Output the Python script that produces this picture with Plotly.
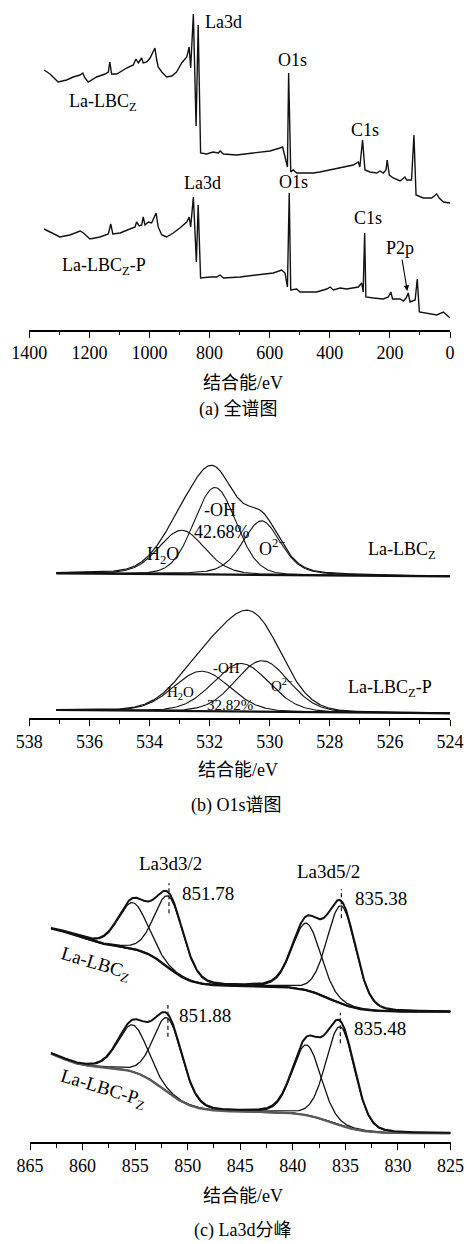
import numpy as np
import plotly.graph_objects as go

W, H = 467, 1244
SERIF = "Liberation Serif"
CJK = "Liberation Serif, Noto Sans CJK SC"

# ---------------- (a) survey spectra: binding energy (eV) / intensity (a.u.) ----------------
survey_top_ev = [1351, 1331, 1304, 1276, 1254, 1231, 1222, 1215, 1204, 1176, 1148, 1137, 1132, 1126,
                 1109, 1076, 1054, 1045, 1037, 1032, 1026, 1021, 1009, 998, 989, 982, 976, 971, 959,
                 943, 926, 910, 893, 876, 868, 863, 854, 845, 838, 830, 810, 788, 771, 765, 754, 710,
                 655, 599, 566, 557, 549, 541, 537, 530, 522, 510, 488, 455, 433, 399, 366, 322, 305,
                 300, 291, 283, 266, 244, 233, 222, 213, 209, 202, 189, 166, 150, 144, 128, 120, 113,
                 89, 61, 44, 36, 22, 0]
survey_top_int = [260, 256, 248, 250, 253, 255, 257, 252, 248, 253, 256, 258, 268, 256,
                  256, 262, 265, 271, 267, 270, 272, 267, 268, 272, 277, 282, 270, 263, 258,
                  253, 254, 258, 267, 273, 283, 262, 316, 204, 305, 177, 176, 178, 177, 179, 176, 175,
                  177, 179, 182, 183, 173, 163, 257, 158, 160, 157, 157, 157, 158, 160, 162, 165, 168,
                  163, 190, 160, 158, 157, 159, 157, 160, 170, 155, 152, 149, 153, 150, 150, 195, 135,
                  132, 132, 136, 132, 128, 127]

survey_bot_ev = [1351, 1331, 1298, 1265, 1231, 1220, 1198, 1165, 1137, 1129, 1122, 1098, 1065, 1048,
                 1043, 1034, 1026, 1021, 1015, 1004, 993, 978, 971, 959, 943, 921, 899, 876, 868, 863,
                 854, 844, 838, 830, 799, 776, 765, 754, 699, 643, 588, 560, 549, 541, 535, 530, 510,
                 499, 444, 410, 399, 388, 366, 344, 305, 294, 289, 284, 280, 255, 222, 205, 197, 191,
                 166, 155, 146, 139, 133, 116, 109, 102, 78, 44, 22, 11, 0]
survey_bot_int = [101, 98, 93, 95, 99, 97, 91, 93, 96, 106, 96, 97, 101, 103,
                  108, 104, 105, 113, 105, 108, 107, 117, 103, 95, 93, 97, 102, 108, 113, 103,
                  133, 68, 125, 52, 53, 53, 55, 52, 53, 55, 57, 60, 57, 43, 137, 40, 41,
                  38, 38, 41, 43, 40, 42, 41, 43, 47, 38, 97, 33, 32, 31, 33, 38, 31,
                  31, 29, 32, 37, 28, 30, 51, 18, 17, 15, 18, 15, 12]

# ---------------- (b) O1s fit: H2O, -OH, O2- components ----------------
o1s_top_center = [532.93, 531.82, 530.27]
o1s_top_height = [44, 87, 54]
o1s_top_fwhm = [1.8, 1.65, 1.5]
o1s_top_lfrac = [0.2, 0.1, 0.35]
o1s_top_bg = [145.0, 142.0]          # background at 537.1 eV and 524 eV

o1s_bot_center = [532.26, 530.95, 530.25]
o1s_bot_height = [40, 48, 51]
o1s_bot_fwhm = [2.2, 2.2, 2.1]
o1s_bot_lfrac = [0.1, 0.1, 0.1]
o1s_bot_bg = [8.3, 5.0]
o1s_span = [537.1, 524.0]

# ---------------- (c) La3d fit: satellite + main peak for 3d3/2 and 3d5/2 ----------------
la_top_center = [855.2, 851.78, 838.7, 835.38]
la_top_height = [46.2, 71.6, 67.0, 97.9]
la_bot_center = [855.2, 851.88, 838.7, 835.48]
la_bot_height = [46.8, 74.3, 70.2, 98.8]
la_fwhm = [3.3, 3.2, 3.2, 3.2]
la_lfrac = 0.15
# step-type background: base level, step centres / heights / widths
la_top_bg_base = 130.6
la_top_bg_steps = [(836.5, 25.7, 1.36), (852.0, 39.0, 1.2), (860.5, 22.0, 1.5)]
la_bot_bg_base = 9.0
la_bot_bg_steps = [(836.3, 21.5, 1.43), (852.3, 45.0, 1.4), (862.0, 18.0, 1.0)]
la_span = [863.0, 825.0]


def pseudo_voigt(e, c, h, fwhm, eta):
    u = (e - c) / fwhm
    return h * ((1 - eta) * np.exp(-4 * np.log(2) * u ** 2) + eta / (1 + 4 * u ** 2))


def step_bg(e, base, steps):
    out = np.full_like(e, base, dtype=float)
    for c, hgt, w in steps:
        out += hgt / (1 + np.exp(-(e - c) / w))
    return out


fig = go.Figure()
BLACK = "#111111"

# (a)
fig.add_trace(go.Scatter(x=survey_top_ev, y=survey_top_int, mode="lines",
                         line=dict(color=BLACK, width=1.4), xaxis="x", yaxis="y"))
fig.add_trace(go.Scatter(x=survey_bot_ev, y=survey_bot_int, mode="lines",
                         line=dict(color=BLACK, width=1.4), xaxis="x", yaxis="y"))

# (b)
e_o = np.linspace(o1s_span[0], o1s_span[1], 500)
for centers, heights, fwhms, lfr, bgv in [
        (o1s_top_center, o1s_top_height, o1s_top_fwhm, o1s_top_lfrac, o1s_top_bg),
        (o1s_bot_center, o1s_bot_height, o1s_bot_fwhm, o1s_bot_lfrac, o1s_bot_bg)]:
    bg = bgv[0] + (bgv[1] - bgv[0]) * (e_o - o1s_span[0]) / (o1s_span[1] - o1s_span[0])
    comps = [pseudo_voigt(e_o, c, h, w, l) for c, h, w, l in zip(centers, heights, fwhms, lfr)]
    for comp in comps:
        fig.add_trace(go.Scatter(x=e_o, y=comp + bg, mode="lines",
                                 line=dict(color=BLACK, width=1.1), xaxis="x2", yaxis="y2"))
    fig.add_trace(go.Scatter(x=e_o, y=bg, mode="lines",
                             line=dict(color=BLACK, width=2.2), xaxis="x2", yaxis="y2"))
    fig.add_trace(go.Scatter(x=e_o, y=sum(comps) + bg, mode="lines",
                             line=dict(color=BLACK, width=1.2), xaxis="x2", yaxis="y2"))

# (c)
e_l = np.linspace(la_span[0], la_span[1], 600)
for centers, heights, base, steps, bgcol in [
        (la_top_center, la_top_height, la_top_bg_base, la_top_bg_steps, BLACK),
        (la_bot_center, la_bot_height, la_bot_bg_base, la_bot_bg_steps, "#5a5a5a")]:
    bg = step_bg(e_l, base, steps)
    comps = [pseudo_voigt(e_l, c, h, w, la_lfrac) for c, h, w in zip(centers, heights, la_fwhm)]
    for comp in comps:
        fig.add_trace(go.Scatter(x=e_l, y=comp + bg, mode="lines",
                                 line=dict(color=BLACK, width=1.3), xaxis="x3", yaxis="y3"))
    fig.add_trace(go.Scatter(x=e_l, y=bg, mode="lines",
                             line=dict(color=bgcol, width=2.3), xaxis="x3", yaxis="y3"))
    fig.add_trace(go.Scatter(x=e_l, y=sum(comps) + bg, mode="lines",
                             line=dict(color=BLACK, width=2.0), xaxis="x3", yaxis="y3"))

# peak-position markers in (c)
marker_ranges = [(la_top_center[1], 229, 259), (la_top_center[3], 224, 253),
                 (la_bot_center[1], 105.6, 137.3), (la_bot_center[3], 99, 129.6)]
for xv, y0, y1 in marker_ranges:
    fig.add_shape(type="line", x0=xv, x1=xv, y0=y0, y1=y1, xref="x3", yref="y3",
                  line=dict(color=BLACK, width=1.2, dash="4px,3px"))


def xaxis_cfg(domain, rng, dtick, minor):
    return dict(domain=domain, range=rng, tickmode="linear", tick0=0, dtick=dtick,
                ticks="outside", ticklen=6, tickwidth=1.3, tickcolor="black",
                showline=True, linewidth=1.5, linecolor="black", showgrid=False, zeroline=False,
                automargin=False,
                minor=dict(dtick=minor, tick0=0, ticks="outside", ticklen=3.5, tickwidth=1.2,
                           tickcolor="black", showgrid=False),
                tickfont=dict(family=SERIF, size=18, color="black"), fixedrange=True)


def yaxis_cfg(axis_px, top_px, anchor):
    return dict(domain=[1 - axis_px / H, 1 - top_px / H], range=[0, axis_px - top_px],
                visible=False, anchor=anchor, fixedrange=True, automargin=False)


dx = [29.3 / W, 450.0 / W]
fig.update_layout(
    width=W, height=H, margin=dict(l=0, r=0, t=0, b=0, pad=0, autoexpand=False),
    paper_bgcolor="white", plot_bgcolor="rgba(0,0,0,0)", showlegend=False,
    xaxis=dict(**xaxis_cfg(dx, [1400, 0], 200, 100), anchor="y"),
    yaxis=yaxis_cfg(330, 4, "x"),
    xaxis2=dict(**xaxis_cfg(dx, [538, 524], 2, 1), anchor="y2"),
    yaxis2=yaxis_cfg(718.3, 440, "x2"),
    xaxis3=dict(**xaxis_cfg([30.0 / W, 450.5 / W], [865, 825], 5, 2.5), anchor="y3"),
    yaxis3=yaxis_cfg(1142.3, 850, "x3"),
)

ann = []


def label(text, x, y, ax="x", size=18, xanchor="center", angle=0):
    ann.append(dict(text=text, x=x, y=y, xref=ax, yref=ax.replace("x", "y"), showarrow=False,
                    xanchor=xanchor, yanchor="middle", textangle=angle,
                    font=dict(family=SERIF, size=size, color="black")))


# (a) labels
label("La3d", 755, 308)
label("O1s", 524, 270)
label("C1s", 283, 200)
label("La-LBC<sub>Z</sub>", 1275, 227, xanchor="left")
label("La3d", 822, 147)
label("O1s", 521, 148)
label("C1s", 273, 112)
label("La-LBC<sub>Z</sub>-P", 1298, 63, xanchor="left")
ann.append(dict(text="P2p", x=142, y=39, ax=166, ay=82, xref="x", yref="y", axref="x", ayref="y",
                showarrow=True, arrowhead=2, arrowsize=1, arrowwidth=1.1, arrowcolor="black",
                font=dict(family=SERIF, size=18, color="black")))

# (b) labels
label("-OH", 531.65, 208.3, "x2")
label("42.68%", 531.6, 186.6, "x2")
label("H<sub>2</sub>O", 533.54, 163.3, "x2")
label("O<sup>2−</sup>", 529.93, 171, "x2")
label("La-LBC<sub>Z</sub>", 525.61, 168.3, "x2")
label("-OH", 531.43, 50, "x2", size=15)
label("32.82%", 531.32, 13.3, "x2", size=15)
label("H<sub>2</sub>O", 532.98, 25, "x2", size=15)
label("O<sup>2−</sup>", 529.6, 33.3, "x2", size=15)
label("La-LBC<sub>Z</sub>-P", 526.0, 30, "x2")

# (c) labels
label("La3d3/2", 851.68, 279, "x3", size=19)
label("La3d5/2", 836.62, 270.6, "x3", size=19)
label("851.78", 850.73, 249, "x3", size=19, xanchor="left")
label("835.38", 834.3, 244, "x3", size=19, xanchor="left")
label("851.88", 850.99, 126.3, "x3", size=19, xanchor="left")
label("835.48", 834.39, 114, "x3", size=19, xanchor="left")
label("La-LBC<sub>Z</sub>", 858.8, 178.3, "x3", size=19, angle=17)
label("La-LBC-P<sub>Z</sub>", 858.05, 53.3, "x3", size=19, angle=17)

# axis titles and captions
for text, xc, yc in [("结合能/eV", 243, 383), ("(a) 全谱图", 238, 410),
                     ("结合能/eV", 238, 770), ("(b) O1s谱图", 237, 805),
                     ("结合能/eV", 243, 1196), ("(c) La3d分峰", 242, 1230)]:
    ann.append(dict(text=text, x=xc / W, y=1 - yc / H, xref="paper", yref="paper",
                    showarrow=False, xanchor="center", yanchor="middle",
                    font=dict(family=CJK, size=18, color="black")))

fig.update_layout(annotations=ann)
fig.write_html("out.html")
